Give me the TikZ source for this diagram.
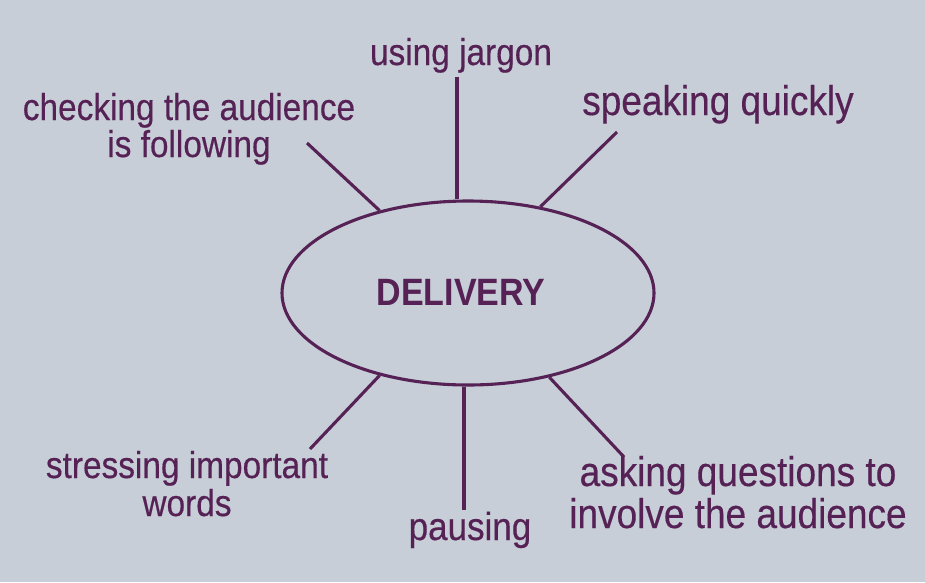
\documentclass[tikz,border=0pt]{standalone}
\usepackage{fontspec}
\setmainfont{Liberation Sans}
\newfontfamily\lblfont[FakeBold=0.4]{Liberation Sans}
\usetikzlibrary{shapes.geometric}
\definecolor{bg}{RGB}{199,206,215}
\definecolor{ink}{RGB}{86,34,86}
\newcommand\tall[1]{\scalebox{1}[1.12]{#1}}
\begin{document}
\begin{tikzpicture}[x=1pt,y=-1pt,
  lbl/.style={text=ink, font=\lblfont\fontsize{33.4}{38}\selectfont, align=center, inner sep=0pt, anchor=base},
  lblbig/.style={lbl, font=\lblfont\fontsize{37}{43}\selectfont},
  spoke/.style={draw=ink, line width=3.1pt},
  hub/.style={ellipse, draw=ink, line width=3.1pt, minimum width=372pt, minimum height=184pt, inner sep=0pt}]
\fill[bg] (0,0) rectangle (925,582);
\useasboundingbox (0,0) rectangle (925,582);

\node[hub] (d) at (468,293) {};
\node[text=ink, font=\fontsize{34}{38}\selectfont\bfseries, anchor=center] (dl) at (461,292) {\tall{DELIVERY}};

\node[lbl] (jargon) at (461,65) {\tall{using jargon}};
\node[lbl] (check) at (189,157) {\tall{checking the audience}\\[-1pt]\tall{is following}};
\node[lblbig] (quick) at (718,115) {\tall{speaking quickly}};
\node[lbl] (stress) at (187,516) {\tall{stressing important}\\\tall{words}};
\node[lbl, font=\lblfont\fontsize{35}{38}\selectfont] (pause) at (470,540) {\tall{pausing}};
\node[lblbig] (ask) at (738,528) {\tall{asking questions to}\\[-1pt]\tall{involve the audience}};

\coordinate (eT) at (457,77);
\coordinate (eTR) at (617,132);
\coordinate (eTL) at (307,143);
\coordinate (eBL) at (310,449);
\coordinate (eB) at (464,510);
\coordinate (eBR) at (624,457);

\draw[spoke] (eT) -- (eT |- d.north);
\draw[spoke] (eTR) -- (d.50);
\draw[spoke] (eTL) -- (d.137);
\draw[spoke] (eBL) -- (d.223);
\draw[spoke] (eB) -- (eB |- d.south);
\draw[spoke] (eBR) -- (d.314);
\end{tikzpicture}
\end{document}
